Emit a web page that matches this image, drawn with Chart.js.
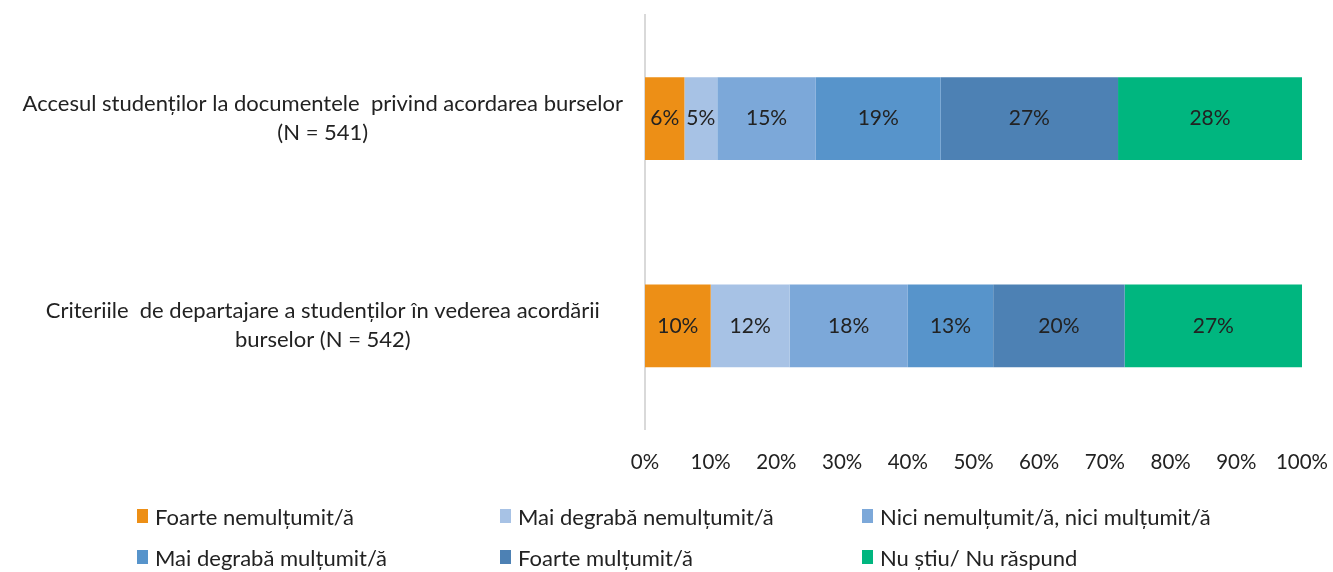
<!DOCTYPE html>
<html>
<head>
<meta charset="utf-8">
<script src="https://cdn.jsdelivr.net/npm/chart.js@4/dist/chart.umd.min.js"></script>
<style>
  body { margin: 0; background: #fff; }
  #wrap { position: relative; width: 1333px; height: 572px; }
  #legend { position: absolute; left: 0; top: 0; width: 1333px; height: 572px; pointer-events: none;
    font-family: Lato, sans-serif; font-size: 22px; color: #222; }
  .item { position: absolute; display: flex; align-items: center; white-space: nowrap; }
  .box { width: 11px; height: 14px; margin-right: 7px; }
</style>
</head>
<body>
<div id="wrap">
  <canvas id="myChart" width="1333" height="572"></canvas>
  <div id="legend"></div>
</div>
<script>
'use strict';
const categories = [
  ['Accesul studenților la documentele  privind acordarea burselor', '(N = 541)'],
  ['Criteriile  de departajare a studenților în vederea acordării', 'burselor (N = 542)'],
];
const seriesNames = [
  'Foarte nemulțumit/ă',
  'Mai degrabă nemulțumit/ă',
  'Nici nemulțumit/ă, nici mulțumit/ă',
  'Mai degrabă mulțumit/ă',
  'Foarte mulțumit/ă',
  'Nu știu/ Nu răspund',
];
const foarteNemultumit = [6, 10];
const maiDegrabaNemultumit = [5, 12];
const niciNici = [15, 18];
const maiDegrabaMultumit = [19, 13];
const foarteMultumit = [27, 20];
const nuStiu = [28, 27];
const colors = ['#ED8F16', '#A7C2E5', '#7CA8D9', '#5794CB', '#4D81B4', '#00B67F'];
const xTicks = [0, 10, 20, 30, 40, 50, 60, 70, 80, 90, 100];

const seriesValues = [foarteNemultumit, maiDegrabaNemultumit, niciNici, maiDegrabaMultumit, foarteMultumit, nuStiu];
const font = 'Lato, sans-serif';

// value labels in the middle of each segment
const segmentLabels = {
  id: 'segmentLabels',
  afterDatasetsDraw(chart) {
    const ctx = chart.ctx;
    ctx.save();
    ctx.font = '21px ' + font;
    ctx.fillStyle = '#222';
    ctx.textAlign = 'center';
    ctx.textBaseline = 'middle';
    chart.data.datasets.forEach((ds, i) => {
      chart.getDatasetMeta(i).data.forEach((bar, j) => {
        const p = bar.getCenterPoint();
        ctx.fillText(ds.data[j] + '%', p.x, p.y);
      });
    });
    ctx.restore();
  }
};

const ctx = document.getElementById('myChart').getContext('2d');
const myChart = new Chart(ctx, {
  type: 'bar',
  data: {
    labels: categories,
    datasets: seriesNames.map((name, i) => ({
      label: name,
      data: seriesValues[i],
      backgroundColor: colors[i],
      borderWidth: 0,
      categoryPercentage: 1,
      barPercentage: 0.4,
    })),
  },
  plugins: [segmentLabels],
  options: {
    indexAxis: 'y',
    responsive: false,
    animation: false,
    layout: { padding: { left: 0, right: 31, top: 15, bottom: 0 } },
    plugins: {
      legend: { display: false },
      tooltip: { enabled: false },
    },
    scales: {
      x: {
        stacked: true,
        min: 0,
        max: 100,
        afterBuildTicks: (scale) => { scale.ticks = xTicks.map(v => ({ value: v })); },
        afterFit: (scale) => {
          scale.height = 142.5;
          scale.paddingLeft = 0;
          scale.paddingRight = 0;
        },
        grid: { display: false, drawTicks: false },
        border: { display: false },
        ticks: {
          padding: 21,
          color: '#222',
          font: { family: font, size: 20.5 },
          callback: (v) => v + '%',
        },
      },
      y: {
        stacked: true,
        afterFit: (scale) => {
          scale.width = 645;
          scale.paddingTop = 0;
          scale.paddingBottom = 0;
        },
        grid: { display: false, drawTicks: false },
        border: { display: true, color: '#d9d9d9', width: 2 },
        ticks: {
          padding: 22,
          crossAlign: 'center',
          color: '#222',
          font: { family: font, size: 22, lineHeight: 1.32 },
        },
      },
    },
  },
});

// legend in three fixed columns, two rows
const legendCols = [137, 500, 862];
const legendRows = [516, 557];
const legendEl = document.getElementById('legend');
seriesNames.forEach((name, i) => {
  const item = document.createElement('div');
  item.className = 'item';
  item.style.left = legendCols[i % 3] + 'px';
  item.style.top = (legendRows[Math.floor(i / 3)] - 13) + 'px';
  item.style.height = '26px';
  const box = document.createElement('span');
  box.className = 'box';
  box.style.background = colors[i];
  const txt = document.createElement('span');
  txt.textContent = name;
  item.appendChild(box);
  item.appendChild(txt);
  legendEl.appendChild(item);
});
</script>
</body>
</html>
